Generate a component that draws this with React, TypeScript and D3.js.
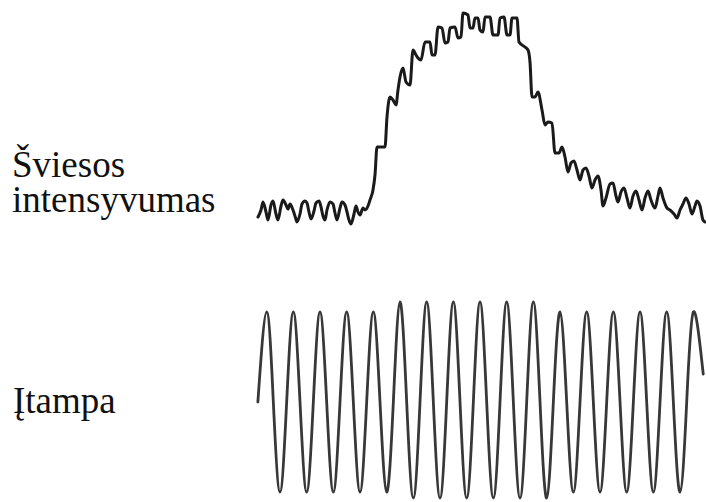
import React from "react";
import * as d3 from "d3";

// Light intensity trace: time (ms) and level (arbitrary units)
const lightTime = [
  0, 3, 5, 8, 10, 13, 15, 18, 20, 23, 25, 28, 30, 32, 35, 37, 39, 42, 44, 47,
  49, 51, 53, 56, 58, 61, 63, 65, 67, 69, 72, 75, 77, 79, 82, 84, 87, 89, 91, 93,
  96, 98, 100, 102, 105, 107, 110, 112, 115, 117, 119, 123, 127, 129, 132, 135, 138, 140,
  142, 145, 148, 152, 155, 158, 160, 163, 167, 172, 174, 177, 180, 184, 187, 190,
  192, 197, 200, 203, 205, 210, 212, 215, 217, 220, 222, 225, 227, 232, 235, 240,
  242, 246, 249, 252, 254, 259, 261, 267, 270, 272, 274, 277, 280, 284, 287, 290,
  294, 297, 301, 304, 307, 310, 313, 316, 319, 322, 325, 328, 331, 334, 337, 340,
  343, 345, 348, 352, 355, 358, 360, 363, 366, 369, 372, 375, 378, 381, 384, 387,
  390, 393, 397, 400, 402, 405, 409, 412, 416, 419, 422, 425, 428, 431, 434, 437,
  439, 442, 445, 447,
];
const lightLevel = [
  -2, 5, 13, 3, -5, 10, 14, 1, -5, 9, 15, 10, 6, 11, 5, -1, -7, 1, 11, 14,
  12, 3, -4, 4, 12, 14, 8, -1, -5, 5, 13, 11, 2, -5, 7, 13, 10, 3, -5, -9,
  1, 9, 3, 0, 7, 5, 9, 15, 25, 40, 68, 68, 68, 98, 118, 115, 110, 125,
  138, 147, 133, 130, 165, 160, 157, 155, 173, 173, 160, 160, 188, 187, 172, 173,
  187, 188, 177, 178, 202, 200, 187, 187, 197, 197, 185, 183, 198, 198, 180, 180,
  197, 198, 180, 180, 197, 197, 173, 168, 165, 153, 118, 118, 123, 105, 90, 93,
  92, 62, 62, 68, 58, 43, 52, 54, 45, 35, 45, 47, 39, 27, 35, 39,
  25, 9, 17, 31, 32, 19, 13, 23, 27, 17, 7, 19, 24, 15, 5, 17,
  24, 15, 7, 19, 27, 17, 7, 5, 1, -3, 5, 11, 17, 11, 1, 9,
  14, 9, -5, -7,
];

// Supply voltage: crest and trough of each cycle (arbitrary units)
const voltagePeaks = [
  0.9, 0.9, 0.9, 0.9, 0.9, 1.0, 1.0, 1.0, 1.0, 1.0, 1.0, 0.9, 0.9, 0.9, 0.9, 0.9, 0.9,
];
const voltageTroughs = [
  -0.9, -0.9, -0.9, -0.9, -0.9, -0.96, -0.96, -0.96, -0.96, -0.96, -0.96, -0.9, -0.9,
  -0.9, -0.9, -0.9,
];
const voltageStart = { t: -0.08, v: 0 };
const voltageEnd = { t: 16.62, v: 0.28 };

const labelLight = ["Šviesos", "intensyvumas"];
const labelVoltage = "Įtampa";

export default function App() {
  const W = 706;
  const H = 502;

  // Light trace scales
  const xLight = d3.scaleLinear().domain([0, 447]).range([258, 705]);
  const yLight = d3.scaleLinear().domain([0, 200]).range([215, 15]);
  const lightPts = lightTime.map((t, i) => [t, lightLevel[i]] as [number, number]);
  const lightPath = d3
    .line<[number, number]>()
    .x((d) => xLight(d[0]))
    .y((d) => yLight(d[1]))
    .curve(d3.curveMonotoneX)(lightPts);

  // Voltage samples every quarter period: zero, crest, zero, trough, ...
  const vPts: { t: number; v: number }[] = [voltageStart];
  voltagePeaks.forEach((p, i) => {
    vPts.push({ t: i + 0.25, v: p });
    if (i < voltageTroughs.length) {
      vPts.push({ t: i + 0.5, v: 0 });
      vPts.push({ t: i + 0.75, v: voltageTroughs[i] });
      vPts.push({ t: i + 1, v: 0 });
    }
  });
  vPts.push(voltageEnd);

  const xVolt = d3.scaleLinear().domain([0, 16]).range([260, 686.7]);
  const yVolt = d3.scaleLinear().domain([-1, 1]).range([502, 302]);
  const voltPath = d3
    .line<{ t: number; v: number }>()
    .x((d) => xVolt(d.t))
    .y((d) => yVolt(d.v))
    .curve(d3.curveNatural)(vPts);

  return (
    <svg
      width={W}
      height={H}
      style={{ position: "absolute", left: 0, top: 0, background: "#fff" }}
    >
      <rect x={0} y={0} width={W} height={H} fill="#fff" />
      <g fontFamily="Liberation Serif" fontSize={37} fill="#111">
        <text x={12} y={177} fontFamily="Liberation Serif">
          {labelLight[0]}
        </text>
        <text x={12} y={212} fontFamily="Liberation Serif">
          {labelLight[1]}
        </text>
        <text x={13} y={413} fontFamily="Liberation Serif">
          {labelVoltage}
        </text>
      </g>
      <path
        d={lightPath ?? ""}
        fill="none"
        stroke="#1a1a1a"
        strokeWidth={3}
        strokeLinejoin="round"
        strokeLinecap="round"
      />
      <path
        d={voltPath ?? ""}
        fill="none"
        stroke="#383838"
        strokeWidth={2.8}
        strokeLinejoin="round"
        strokeLinecap="round"
      />
    </svg>
  );
}
